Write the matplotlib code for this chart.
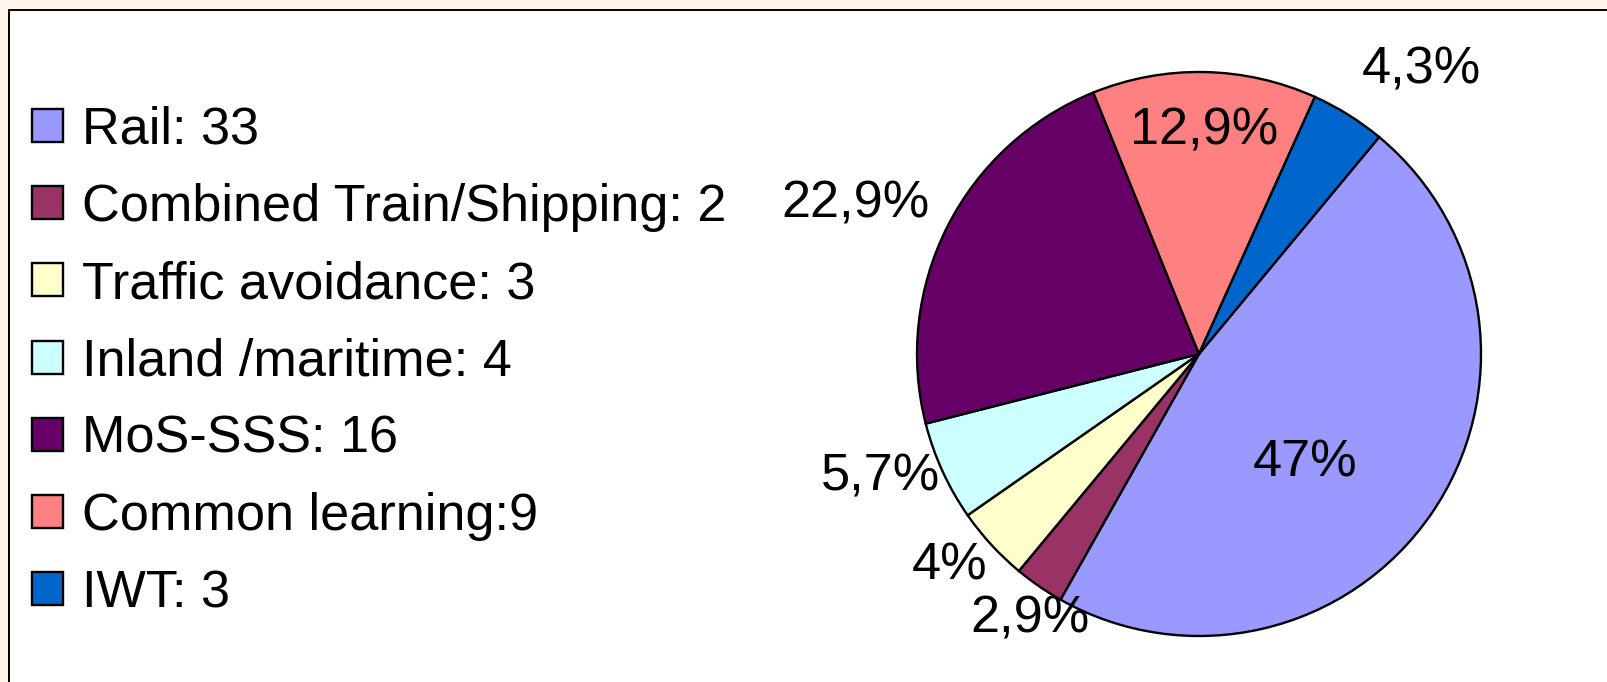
import numpy as np
import matplotlib.pyplot as plt
from matplotlib.patches import Rectangle

# Data
categories = ["Rail: 33", "Combined Train/Shipping: 2", "Traffic avoidance: 3",
              "Inland /maritime: 4", "MoS-SSS: 16", "Common learning:9", "IWT: 3"]
values = [33, 2, 3, 4, 16, 9, 3]
pct_labels = ["47%", "2,9%", "4%", "5,7%", "22,9%", "12,9%", "4,3%"]
colors = ["#9999FF", "#993366", "#FFFFCC", "#CCFFFF", "#660066", "#FF8080", "#0066CC"]

# label placement: radius (in pie radii) and angle tweak from the wedge middle
label_r = [0.54, 1.115, 1.163, 1.21, 1.33, 0.79, 1.28]
label_dang = [-11.4, 2.1, -2.2, -3.5, 3.3, -0.2, -6.0]

plt.rcParams['font.family'] = ['Liberation Sans', 'DejaVu Sans']
FS = 37.6

W, H = 1608, 682
fig = plt.figure(figsize=(W / 100, H / 100), dpi=100, facecolor="#FFF5E9")

# white chart area with black frame (left/top visible)
fig.patches.append(Rectangle((9 / W, -0.1), 1.2, 1.1 - 10 / H, transform=fig.transFigure,
                             facecolor="white", edgecolor="black", linewidth=1.4, zorder=-5))

# pie axes: centre (1199, 354) px, radius 282 px
cx, cy, r = 1199, 354, 282
ax = fig.add_axes([(cx - r) / W, (H - cy - r) / H, 2 * r / W, 2 * r / H])
wedges, _ = ax.pie(values, colors=colors, startangle=50.3, counterclock=False,
                   wedgeprops=dict(edgecolor="black", linewidth=1.7))
ax.set_xlim(-1, 1)
ax.set_ylim(-1, 1)
ax.set_aspect('equal')
ax.axis('off')

for w, lab, rr, da in zip(wedges, pct_labels, label_r, label_dang):
    mid = np.deg2rad((w.theta1 + w.theta2) / 2 + da)
    ax.text(rr * np.cos(mid), rr * np.sin(mid), lab, fontsize=FS,
            ha='center', va='center', clip_on=False)

leg = fig.legend(wedges, categories, loc='center left',
                 bbox_to_anchor=(32 / W, 1 - 362 / H), frameon=False,
                 fontsize=FS, handlelength=0.6, handleheight=0.6,
                 handletextpad=0.35, labelspacing=0.54, borderpad=0,
                 borderaxespad=0)
for h in leg.legend_handles:
    h.set_linewidth(1.7)
    h.set_edgecolor("black")

fig.savefig("out.png", dpi=100, facecolor=fig.get_facecolor())
